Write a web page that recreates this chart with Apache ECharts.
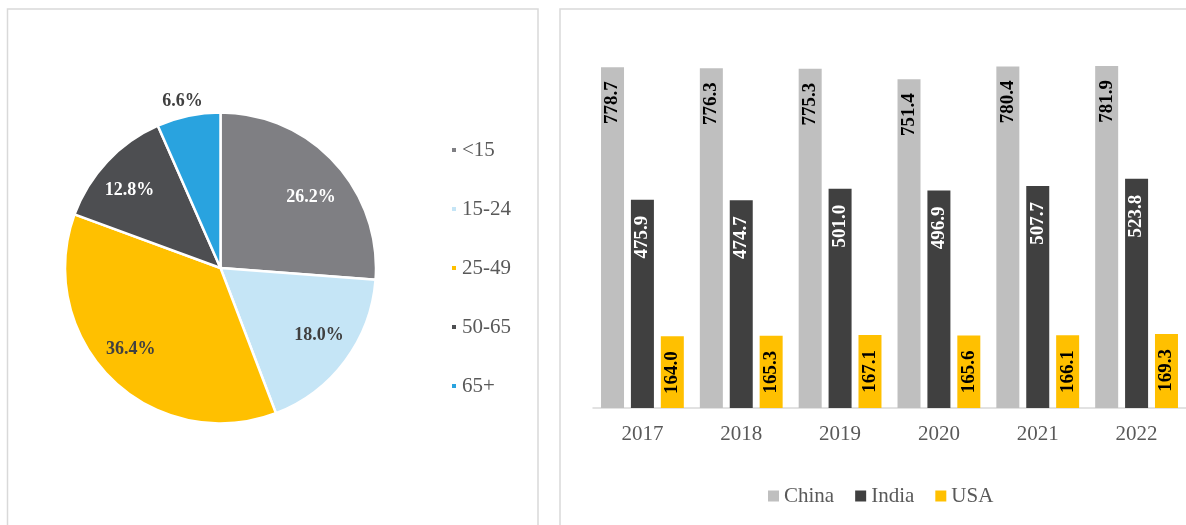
<!DOCTYPE html>
<html>
<head>
<meta charset="utf-8">
<script src="https://cdn.jsdelivr.net/npm/echarts@6/dist/echarts.min.js"></script>
<style>
  html, body { margin: 0; padding: 0; background: #fff; }
  #chart { width: 1186px; height: 525px; }
</style>
</head>
<body>
<div id="chart"></div>
<script>
// age groups (pie)
const ageGroups = ['<15', '15-24', '25-49', '50-65', '65+']
const agePercents = [26.2, 18.0, 36.4, 12.8, 6.6]

// yearly values (bars)
const years = ['2017', '2018', '2019', '2020', '2021', '2022']
const china = [778.7, 776.3, 775.3, 751.4, 780.4, 781.9]
const india = [475.9, 474.7, 501.0, 496.9, 507.7, 523.8]
const usa = [164.0, 165.3, 167.1, 165.6, 166.1, 169.3]

const pieColors = ['#7f7f83', '#c5e5f6', '#ffc000', '#4d4e51', '#29a3df']
const pieLabelColors = ['#fff', '#404040', '#404040', '#fff', '#404040']
// small nudges so the pie labels sit where the original put them
const pieLabelNudge = [[3, 10], [3, -4], [-6, -4], [-4, 4], [-3, 0]]
const serif = '"Liberation Serif", "Times New Roman", serif'
const textGray = '#595959'

const chart = echarts.init(document.getElementById('chart'))

const pct = p => p.value.toFixed(1) + '%'
const center = [220.5, 268]
const nudge = p => ({ dx: pieLabelNudge[p.dataIndex][0], dy: pieLabelNudge[p.dataIndex][1] })

// rotated value label, end of text near the top of the bar
const barLabel = (color, dist) => ({
  show: true, position: 'insideTop', rotate: 90, align: 'right', verticalAlign: 'middle',
  distance: dist, color: color, fontFamily: serif, fontWeight: 'bold', fontSize: 19,
  formatter: p => p.value.toFixed(1)
})

const option = {
  animation: false,
  backgroundColor: '#fff',
  graphic: [
    { type: 'rect', shape: { x: 7.5, y: 9, width: 530.5, height: 560 },
      style: { fill: 'none', stroke: '#d9d9d9', lineWidth: 1.5 }, silent: true },
    { type: 'rect', shape: { x: 560, y: 9, width: 700, height: 560 },
      style: { fill: 'none', stroke: '#d9d9d9', lineWidth: 1.5 }, silent: true }
  ],
  legend: [
    {
      data: ageGroups,
      orient: 'vertical',
      left: 450, top: 139.5, padding: 0,
      itemWidth: 6, itemHeight: 6, itemGap: 38,
      icon: 'rect',
      textStyle: { fontFamily: serif, fontSize: 21, color: textGray, lineHeight: 21 },
      selectedMode: false
    },
    {
      data: ['China', 'India', 'USA'],
      left: 768, top: 485.5, padding: 0,
      itemWidth: 11, itemHeight: 11, itemGap: 21,
      icon: 'rect',
      textStyle: { fontFamily: serif, fontSize: 21, color: textGray, lineHeight: 21 },
      selectedMode: false
    }
  ],
  grid: { left: 593, width: 597, top: 58, height: 350 },
  xAxis: {
    type: 'category',
    data: years,
    axisTick: { show: false },
    axisLine: { lineStyle: { color: '#d9d9d9', width: 1.5 } },
    axisLabel: { fontFamily: serif, fontSize: 21, color: textGray, margin: 16 }
  },
  yAxis: { type: 'value', min: 0, max: 800, show: false, splitLine: { show: false } },
  series: [
    {
      type: 'pie',
      center: center, radius: [0, 155.5],
      startAngle: 90, clockwise: true,
      data: ageGroups.map((n, i) => ({ name: n, value: agePercents[i], itemStyle: { color: pieColors[i] } })),
      itemStyle: { borderColor: '#fff', borderWidth: 2.5 },
      label: { show: false }, labelLine: { show: false },
      emphasis: { disabled: true }
    },
    {
      // transparent ring just to place the inner labels further out
      type: 'pie',
      center: center, radius: [77, 155.5],
      startAngle: 90, clockwise: true, silent: true,
      data: ageGroups.map((n, i) => ({
        name: n, value: agePercents[i],
        label: { show: i < 4, color: pieLabelColors[i] }
      })),
      itemStyle: { color: 'rgba(0,0,0,0)' },
      label: { position: 'inside', formatter: pct, fontFamily: serif, fontWeight: 'bold', fontSize: 18 },
      labelLine: { show: false },
      labelLayout: nudge,
      emphasis: { disabled: true }
    },
    {
      // outer ring for the small slice label
      type: 'pie',
      center: center, radius: [156, 179],
      startAngle: 90, clockwise: true, silent: true,
      data: ageGroups.map((n, i) => ({
        name: n, value: agePercents[i],
        label: { show: i === 4, color: pieLabelColors[i] }
      })),
      itemStyle: { color: 'rgba(0,0,0,0)' },
      label: { position: 'inside', formatter: pct, fontFamily: serif, fontWeight: 'bold', fontSize: 18 },
      labelLine: { show: false },
      labelLayout: nudge,
      emphasis: { disabled: true }
    },
    {
      name: 'China', type: 'bar', data: china,
      barWidth: 23, barGap: '30%',
      itemStyle: { color: '#bfbfbf' },
      label: barLabel('#000', 14)
    },
    {
      name: 'India', type: 'bar', data: india,
      barWidth: 23, barGap: '30%',
      itemStyle: { color: '#404040' },
      label: barLabel('#fff', 16)
    },
    {
      name: 'USA', type: 'bar', data: usa,
      barWidth: 23, barGap: '30%',
      itemStyle: { color: '#ffc000' },
      label: barLabel('#000', 15)
    }
  ]
}

chart.setOption(option)
</script>
</body>
</html>
